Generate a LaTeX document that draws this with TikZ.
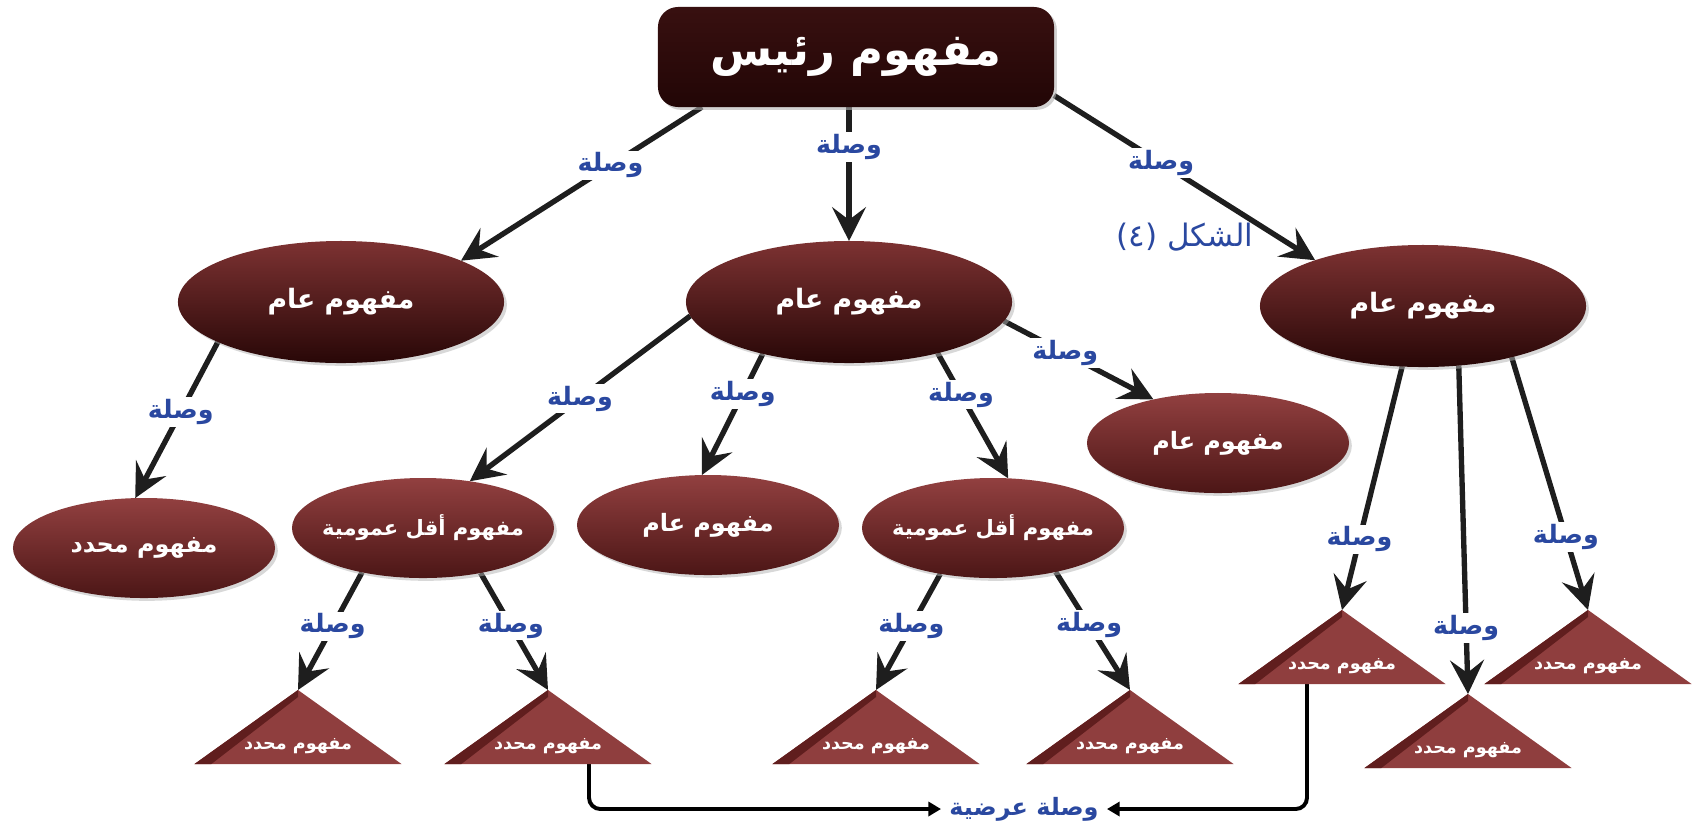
\documentclass[tikz,border=0pt]{standalone}
\usepackage{fontspec}
\newfontfamily\arabicfont[Script=Arabic]{DejaVu Sans}
\TeXXeTstate=1
\usetikzlibrary{shapes.geometric,arrows.meta,shadows,backgrounds}

\newcommand{\artxt}[1]{{\arabicfont\beginR #1\endR}}

\begin{document}
\begin{tikzpicture}[
  x=0.025cm, y=-0.025cm,
  every node/.style={outer sep=0pt},
  root box/.style={
    rectangle, rounded corners=0.5cm, minimum width=9.9cm, minimum height=2.5cm,
    top color=rootTop, bottom color=rootBot, text=white,
    drop shadow={shadow xshift=2pt, shadow yshift=-2pt, fill=black!30, opacity=.6},
    font=\bfseries\fontsize{32}{38}\selectfont
  },
  general concept/.style={
    ellipse, minimum width=8.15cm, minimum height=3.05cm,
    top color=genTop, bottom color=genBot, text=white,
    drop shadow={shadow xshift=2pt, shadow yshift=-2pt, fill=black!30, opacity=.5},
    font=\bfseries\fontsize{19}{23}\selectfont
  },
  specific concept/.style={
    ellipse, minimum width=6.55cm, minimum height=2.5cm, inner xsep=-14pt,
    top color=speTop, bottom color=speBot, text=white,
    drop shadow={shadow xshift=2pt, shadow yshift=-2pt, fill=black!30, opacity=.5},
    font=\bfseries\fontsize{17}{20}\selectfont
  },
  lesser concept/.style={specific concept, font=\bfseries\fontsize{15}{18}\selectfont},
  leaf concept/.style={
    inner sep=0pt, minimum width=5.175cm, text height=1.49cm, text depth=.36cm,
    text=white, font=\bfseries\fontsize{12.5}{15}\selectfont,
    path picture={
      \fill[triFill] (path picture bounding box.south west) -- (path picture bounding box.north)
        -- (path picture bounding box.south east) -- cycle;
      \fill[triEdge] (path picture bounding box.south west) -- (path picture bounding box.north)
        -- ([yshift=-5pt]path picture bounding box.north) -- ([xshift=12pt]path picture bounding box.south west) -- cycle;
    }
  },
  link label/.style={fill=white, inner sep=1.5pt, text=linkBlue, font=\bfseries\fontsize{18}{21}\selectfont},
]
%-------------------------------------------------------------
% Custom colors
\definecolor{rootTop}{RGB}{56,16,16}
\definecolor{rootBot}{RGB}{34,6,6}
\definecolor{genTop}{RGB}{125,50,50}
\definecolor{genBot}{RGB}{40,7,7}
\definecolor{speTop}{RGB}{146,64,64}
\definecolor{speBot}{RGB}{76,22,22}
\definecolor{triFill}{RGB}{143,62,62}
\definecolor{triEdge}{RGB}{96,30,30}
\definecolor{linkBlue}{RGB}{42,72,160}
\definecolor{lineCol}{RGB}{30,30,30}

\tikzset{arrowL/.style={draw=lineCol, line width=3.8pt, -{Stealth[length=24pt, width=24pt, inset=9pt]}}}
\tikzset{arrowX/.style={draw=black, line width=2.8pt, rounded corners=8pt, -{Triangle[length=9pt, width=10pt]}}}

\useasboundingbox (0,0) rectangle (1696,825);

%-------------------------------------------------------------
% Main concept map elements
\node[root box] (R) at (856,57) {\artxt{مفهوم رئيس}};
%============================================================
\node[general concept] (G1) at (341,302) {\artxt{مفهوم عام}};
\node[general concept] (G2) at (849,302) {\artxt{مفهوم عام}};
\node[general concept] (G3) at (1423,306) {\artxt{مفهوم عام}};
%============================================================
\node[specific concept] (S1) at (144,548) {\artxt{مفهوم محدد}};
\node[lesser concept] (L1) at (423,528) {\artxt{مفهوم أقل عمومية}};
\node[specific concept] (G4) at (708,525) {\artxt{مفهوم عام}};
\node[lesser concept] (L2) at (993,528) {\artxt{مفهوم أقل عمومية}};
\node[specific concept] (G5) at (1218,443) {\artxt{مفهوم عام}};
%============================================================
\node[leaf concept] (T1) at (298,727) {\artxt{مفهوم محدد}};
\node[leaf concept] (T2) at (548,727) {\artxt{مفهوم محدد}};
\node[leaf concept] (T3) at (876,727) {\artxt{مفهوم محدد}};
\node[leaf concept] (T4) at (1130,727) {\artxt{مفهوم محدد}};
\node[leaf concept] (T5) at (1342,647) {\artxt{مفهوم محدد}};
\node[leaf concept] (T6) at (1468,731) {\artxt{مفهوم محدد}};
\node[leaf concept] (T7) at (1588,647) {\artxt{مفهوم محدد}};
%============================================================
\node[link label, inner xsep=6pt, font=\bfseries\fontsize{17}{20}\selectfont] (X) at (1024,809) {\artxt{وصلة عرضية}};
\node[text=linkBlue, font=\fontsize{22}{26}\selectfont] (C) at (1185,237) {\artxt{الشكل (٤)}};

%---------------------------------------------------
% Background links
\begin{pgfonlayer}{background}

	\draw[arrowL] (R.-162) -- node[link label, pos=.38] {\artxt{وصلة}} (G1.19);
	\draw[arrowL] (G2.north |- R.south) -- node[link label, pos=.3] {\artxt{وصلة}} (G2.north);
	\draw[arrowL] (R.-11) -- node[link label, pos=.41] {\artxt{وصلة}} (G3.157);

	\draw[arrowL] (G1.-162) -- node[link label, pos=.45] {\artxt{وصلة}} (S1.100);

	\draw[arrowL] (G2.-175) -- node[link label, pos=.5] {\artxt{وصلة}} (L1.45);
	\draw[arrowL] (G2.-149) -- node[link label, pos=.33] {\artxt{وصلة}} (G4.97);
	\draw[arrowL] (G2.-30) -- node[link label, pos=.33] {\artxt{وصلة}} (L2.73);
	\draw[arrowL] (G2.-7) -- node[link label, pos=.41] {\artxt{وصلة}} (G5.146);

	\draw[arrowL] (L1.-144) -- node[link label, pos=.46] {\artxt{وصلة}} (T1.north);
	\draw[arrowL] (L1.-38) -- node[link label, pos=.45] {\artxt{وصلة}} (T2.north);
	\draw[arrowL] (L2.-139) -- node[link label, pos=.45] {\artxt{وصلة}} (T3.north);
	\draw[arrowL] (L2.-35) -- node[link label, pos=.45] {\artxt{وصلة}} (T4.north);

	\draw[arrowL] (G3.-109) -- node[link label, pos=.71] {\artxt{وصلة}} (T5.north);
	\draw[arrowL] (G3.-59) -- node[link label, pos=.8] {\artxt{وصلة}} (T6.north);
	\draw[arrowL] (G3.-30) -- node[link label, pos=.71] {\artxt{وصلة}} (T7.north);

	\draw[arrowX] ([xshift=1.025cm]T2.south) |- (X.west);
	\draw[arrowX] ([xshift=-0.875cm]T5.south) |- (X.east);
\end{pgfonlayer}

\end{tikzpicture}
\end{document}
